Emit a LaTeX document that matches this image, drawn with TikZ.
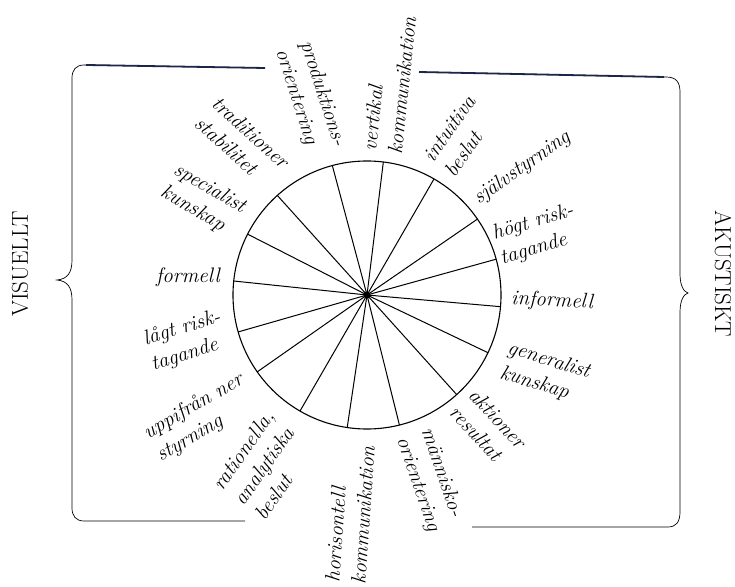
\documentclass[tikz,border=0pt]{standalone}
\usepackage{fontspec}
\usepackage{tikz}
\usepackage{xcolor}
\definecolor{armblue}{RGB}{28,38,72}

\begin{document}
\begin{tikzpicture}[x=1pt, y=1pt,
  lbl/.style={font=\fontsize{21}{26}\selectfont\itshape, align=left, inner sep=0pt},
  side/.style={font=\fontsize{23}{26}\selectfont\rmfamily, inner sep=0pt},
  spoke/.style={line width=1pt},
  brace/.style={line width=0.7pt},
  arm/.style={line width=1.8pt, armblue}]
  \useasboundingbox (0,0) rectangle (735,586);

  %% ── Wheel: circle, hub and 16 spokes ───────────────────────
  \coordinate (hub) at (367,291);
  \draw[line width=1.1pt] (hub) circle (134);
  \foreach \a [count=\i] in {-5,15.5,34.5,60,83,105,132,153,174,196,215,240,261.5,284,312,334.5}
    \draw[spoke] (hub) -- ++(\a:134) coordinate (tip\i);
  \fill (hub) circle (3.5);

  %% ── Right half labels ─────────────────────────────────────
  \node[lbl, rotate=-3]  (informell) at (552,285) {informell};
  \node[lbl, rotate=-17] (generalist) at (545,213) {generalist\\kunskap};
  \node[lbl, rotate=-47] (aktioner) at (488,159) {aktioner\\resultat};
  \node[lbl, rotate=-71] (manniska) at (430,106) {människo-\\orientering};
  \node[lbl, rotate=35]  (sjalv) at (522,418) {självstyrning};
  \node[lbl, rotate=17]  (hogt) at (537,351) {högt risk-\\tagande};
  \node[lbl, rotate=55]  (intuitiva) at (460,450) {intuitiva\\beslut};
  \node[lbl, rotate=84]  (vertikal) at (389,502) {vertikal\\kommunikation};

  %% ── Left half labels ──────────────────────────────────────
  \node[lbl, rotate=0]   (formell) at (188,309) {formell};
  \node[lbl, rotate=-30] (specialist) at (203,386) {specialist\\kunskap};
  \node[lbl, rotate=-42] (traditioner) at (242,444) {traditioner\\stabilitet};
  \node[lbl, rotate=-72] (produktion) at (310,488) {produktions-\\orientering};
  \node[lbl, rotate=17]  (lagt) at (186,245) {lågt risk-\\tagande};
  \node[lbl, rotate=30]  (uppifran) at (200,168) {uppifrån ner\\styrning};
  \node[lbl, rotate=55]  (rationella) at (264,121) {rationella,\\analytiska\\beslut};
  \node[lbl, rotate=86]  (horisontell) at (350,72) {horisontell\\kommunikation};

  %% ── Braces: VISUELLT (left) and AKUSTISKT (right) ─────────
  \draw[brace] (265,518) -- (84,521) .. controls (76,521) and (72,516) .. (72,508)
    -- (72,326) .. controls (72,314) and (68,307) .. (57,306)
    .. controls (68,305) and (72,298) .. (72,286)
    -- (72,78) .. controls (72,70) and (76,65) .. (84,65) -- (245,65);
  \draw[arm] (265,518) -- (86,521);
  \draw[brace] (419,514) -- (666,509) .. controls (676,509) and (680,504) .. (680,494)
    -- (680,312) .. controls (680,300) and (684,294) .. (688,293)
    .. controls (684,292) and (680,286) .. (680,274)
    -- (680,74) .. controls (680,64) and (676,59) .. (668,59) -- (472,59);
  \draw[arm] (419,514) -- (664,509);
  \node[side, rotate=90]  (visuellt) at (20,322) {VISUELLT};
  \node[side, rotate=-90] (akustiskt) at (723,312) {\addfontfeature{LetterSpace=6}AKUSTISKT};
\end{tikzpicture}
\end{document}
